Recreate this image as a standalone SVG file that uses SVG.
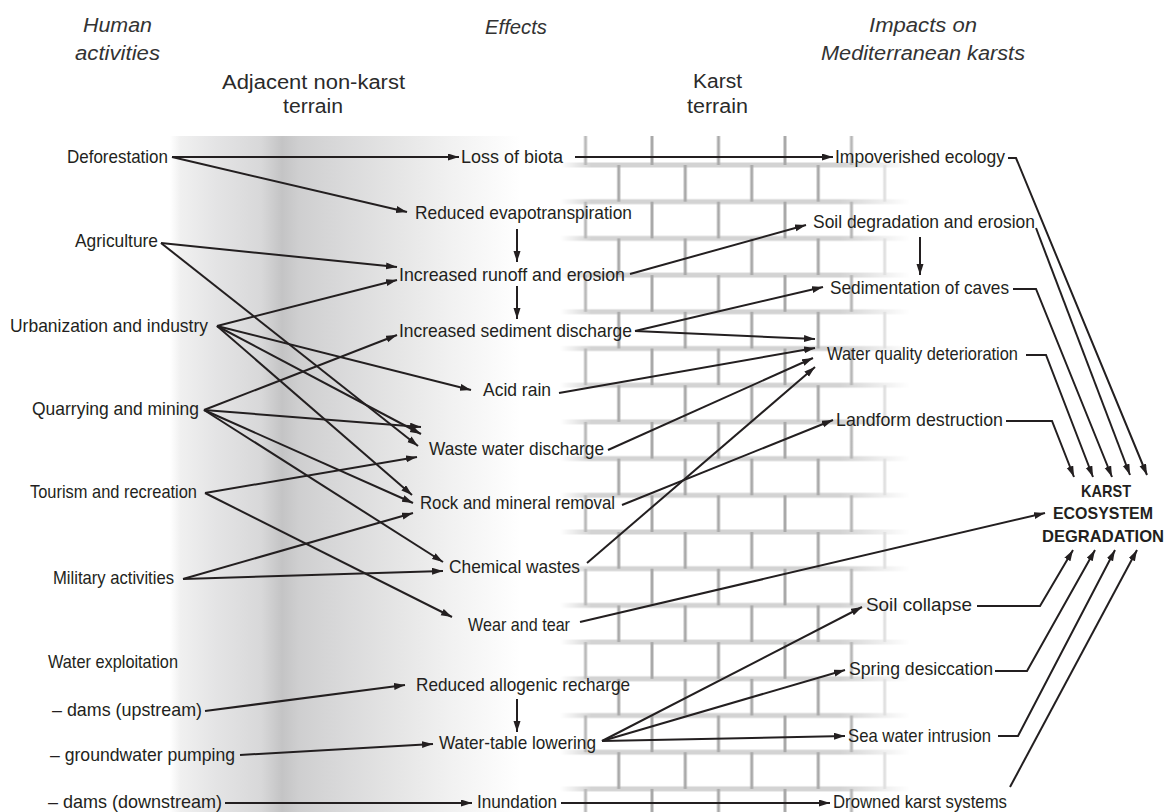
<svg xmlns="http://www.w3.org/2000/svg" width="1171" height="812" viewBox="0 0 1171 812">
<style>
.lbl{font-family:"Liberation Sans Narrow","Liberation Sans",Arial,sans-serif;font-size:19px;fill:#231f20}
.hdr{font-family:"Liberation Sans",Arial,sans-serif;font-style:italic;font-size:20px;fill:#333333}
.sub{font-family:"Liberation Sans",Arial,sans-serif;font-size:20px;fill:#2a2a2a}
.big{font-family:"Liberation Sans Narrow","Liberation Sans",Arial,sans-serif;font-weight:bold;font-size:17px;fill:#231f20}
.c{stroke:#231f20;stroke-width:2;fill:none;marker-end:url(#ah)}
</style>
<defs>
<marker id="ah" markerUnits="userSpaceOnUse" markerWidth="12" markerHeight="8" refX="11" refY="3.5" orient="auto">
<path d="M0,0 L11,3.5 L0,7 Z" fill="#231f20"/>
</marker>
<linearGradient id="band" gradientUnits="userSpaceOnUse" x1="170" y1="0" x2="520" y2="0">
<stop offset="0" stop-color="#ffffff"/>
<stop offset="0.03" stop-color="#f0f0f0"/>
<stop offset="0.13" stop-color="#e4e4e5"/>
<stop offset="0.26" stop-color="#d8d8d9"/>
<stop offset="0.32" stop-color="#c4c4c5"/>
<stop offset="0.37" stop-color="#cfcfd0"/>
<stop offset="0.49" stop-color="#d9d9da"/>
<stop offset="0.66" stop-color="#e6e6e6"/>
<stop offset="0.80" stop-color="#f1f1f1"/>
<stop offset="1" stop-color="#ffffff"/>
</linearGradient>
<pattern id="brick" patternUnits="userSpaceOnUse" x="585.5" y="165" width="133" height="73.4">
<rect width="133" height="73.4" fill="#ffffff"/>
<path d="M0,0 H133 M0,36.7 H133 M0,73.4 H133" stroke="#d3d3d3" stroke-width="5"/>
<path d="M33.25,0 V36.7 M99.75,0 V36.7 M0,36.7 V73.4 M66.5,36.7 V73.4 M133,36.7 V73.4" stroke="#a9a9a9" stroke-width="3"/>
</pattern>
<linearGradient id="fadeGrad" gradientUnits="userSpaceOnUse" x1="560" y1="0" x2="910" y2="0">
<stop offset="0" stop-color="#000"/>
<stop offset="0.09" stop-color="#fff"/>
<stop offset="0.80" stop-color="#fff"/>
<stop offset="1" stop-color="#000"/>
</linearGradient>
<mask id="fade" maskUnits="userSpaceOnUse" x="560" y="136" width="350" height="676">
<rect x="560" y="136" width="350" height="676" fill="url(#fadeGrad)"/>
</mask>
</defs>
<rect width="1171" height="812" fill="#ffffff"/>
<g id="background">
<rect x="170" y="136" width="350" height="676" fill="url(#band)"/>
<rect x="560" y="136" width="350" height="676" fill="url(#brick)" mask="url(#fade)"/>
</g>
<g id="headers">
<text class="hdr" x="83" y="32" textLength="69" lengthAdjust="spacingAndGlyphs">Human</text>
<text class="hdr" x="75" y="60" textLength="85" lengthAdjust="spacingAndGlyphs">activities</text>
<text class="hdr" x="485" y="34" textLength="62" lengthAdjust="spacingAndGlyphs">Effects</text>
<text class="hdr" x="869" y="32" textLength="108" lengthAdjust="spacingAndGlyphs">Impacts on</text>
<text class="hdr" x="821" y="60" textLength="204" lengthAdjust="spacingAndGlyphs">Mediterranean karsts</text>
<text class="sub" x="222" y="89" textLength="183" lengthAdjust="spacingAndGlyphs">Adjacent non-karst</text>
<text class="sub" x="283" y="113" textLength="60" lengthAdjust="spacingAndGlyphs">terrain</text>
<text class="sub" x="693" y="88" textLength="49" lengthAdjust="spacingAndGlyphs">Karst</text>
<text class="sub" x="687" y="113" textLength="61" lengthAdjust="spacingAndGlyphs">terrain</text>
</g>
<g id="connectors">
<path class="c" d="M172,157 L459,157"/>
<path class="c" d="M172,157 L407,212"/>
<path class="c" d="M161,243 L397,267"/>
<path class="c" d="M161,243 L418,446"/>
<path class="c" d="M217,326 L397,280"/>
<path class="c" d="M217,326 L471,390"/>
<path class="c" d="M217,326 L421,434"/>
<path class="c" d="M217,326 L412,495"/>
<path class="c" d="M204,410 L397,335"/>
<path class="c" d="M204,410 L421,427"/>
<path class="c" d="M204,410 L413,503"/>
<path class="c" d="M204,410 L443,562"/>
<path class="c" d="M205,493 L417,457"/>
<path class="c" d="M205,493 L452,617"/>
<path class="c" d="M183,579 L413,513"/>
<path class="c" d="M183,579 L443,571"/>
<path class="c" d="M517,229 L517,262"/>
<path class="c" d="M517,286 L517,319"/>
<path class="c" d="M205,711 L405,685"/>
<path class="c" d="M240,755 L433,744"/>
<path class="c" d="M225,803 L472,803"/>
<path class="c" d="M517,699 L517,732"/>
<path class="c" d="M575,157 L833,157"/>
<path class="c" d="M630,274 L806,225"/>
<path class="c" d="M635,331 L823,287"/>
<path class="c" d="M635,331 L815,339"/>
<path class="c" d="M559,393 L815,348"/>
<path class="c" d="M608,450 L813,358"/>
<path class="c" d="M587,563 L815,367"/>
<path class="c" d="M622,505 L833,420"/>
<path class="c" d="M580,622 L1045,513"/>
<path class="c" d="M602,741 L862,607"/>
<path class="c" d="M602,741 L845,670"/>
<path class="c" d="M602,741 L845,736"/>
<path class="c" d="M561,803 L830,803"/>
<path class="c" d="M920,237 L920,275"/>
<path class="c" d="M1008,158 L1016,158 L1147,475"/>
<path class="c" d="M1036,228 L1130,475"/>
<path class="c" d="M1013,289 L1036,289 L1112,477"/>
<path class="c" d="M1026,355 L1046,355 L1093,477"/>
<path class="c" d="M1006,421 L1052,421 L1074,477"/>
<path class="c" d="M977,606 L1040,606 L1073,550"/>
<path class="c" d="M995,671 L1027,671 L1095,550"/>
<path class="c" d="M998,736 L1018,736 L1115,550"/>
<path class="c" d="M1010,787 L1137,550"/>
</g>
<g id="n-deforestation"><text class="lbl" x="67" y="163" textLength="101" lengthAdjust="spacingAndGlyphs">Deforestation</text></g>
<g id="n-agriculture"><text class="lbl" x="75" y="247" textLength="83" lengthAdjust="spacingAndGlyphs">Agriculture</text></g>
<g id="n-urbanization"><text class="lbl" x="10" y="332" textLength="198" lengthAdjust="spacingAndGlyphs">Urbanization and industry</text></g>
<g id="n-quarrying"><text class="lbl" x="32" y="415" textLength="167" lengthAdjust="spacingAndGlyphs">Quarrying and mining</text></g>
<g id="n-tourism"><text class="lbl" x="30" y="498" textLength="167" lengthAdjust="spacingAndGlyphs">Tourism and recreation</text></g>
<g id="n-military"><text class="lbl" x="53" y="584" textLength="121" lengthAdjust="spacingAndGlyphs">Military activities</text></g>
<g id="n-water-exploitation"><text class="lbl" x="48" y="668" textLength="130" lengthAdjust="spacingAndGlyphs">Water exploitation</text></g>
<g id="n-dams-up"><text class="lbl" x="52" y="716" textLength="150" lengthAdjust="spacingAndGlyphs">– dams (upstream)</text></g>
<g id="n-groundwater"><text class="lbl" x="50" y="761" textLength="185" lengthAdjust="spacingAndGlyphs">– groundwater pumping</text></g>
<g id="n-dams-down"><text class="lbl" x="48" y="808" textLength="174" lengthAdjust="spacingAndGlyphs">– dams (downstream)</text></g>
<g id="n-loss-biota"><text class="lbl" x="461" y="163" textLength="102" lengthAdjust="spacingAndGlyphs">Loss of biota</text></g>
<g id="n-red-evap"><text class="lbl" x="415" y="219" textLength="217" lengthAdjust="spacingAndGlyphs">Reduced evapotranspiration</text></g>
<g id="n-runoff"><text class="lbl" x="399" y="281" textLength="226" lengthAdjust="spacingAndGlyphs">Increased runoff and erosion</text></g>
<g id="n-sediment"><text class="lbl" x="399" y="337" textLength="233" lengthAdjust="spacingAndGlyphs">Increased sediment discharge</text></g>
<g id="n-acid-rain"><text class="lbl" x="483" y="396" textLength="68" lengthAdjust="spacingAndGlyphs">Acid rain</text></g>
<g id="n-waste-water"><text class="lbl" x="429" y="455" textLength="175" lengthAdjust="spacingAndGlyphs">Waste water discharge</text></g>
<g id="n-rock"><text class="lbl" x="420" y="509" textLength="195" lengthAdjust="spacingAndGlyphs">Rock and mineral removal</text></g>
<g id="n-chemical"><text class="lbl" x="449" y="573" textLength="131" lengthAdjust="spacingAndGlyphs">Chemical wastes</text></g>
<g id="n-wear"><text class="lbl" x="468" y="631" textLength="102" lengthAdjust="spacingAndGlyphs">Wear and tear</text></g>
<g id="n-allogenic"><text class="lbl" x="416" y="691" textLength="214" lengthAdjust="spacingAndGlyphs">Reduced allogenic recharge</text></g>
<g id="n-water-table"><text class="lbl" x="439" y="749" textLength="157" lengthAdjust="spacingAndGlyphs">Water-table lowering</text></g>
<g id="n-inundation"><text class="lbl" x="477" y="808" textLength="80" lengthAdjust="spacingAndGlyphs">Inundation</text></g>
<g id="n-impoverished"><text class="lbl" x="835" y="163" textLength="170" lengthAdjust="spacingAndGlyphs">Impoverished ecology</text></g>
<g id="n-soil-degradation"><text class="lbl" x="813" y="228" textLength="222" lengthAdjust="spacingAndGlyphs">Soil degradation and erosion</text></g>
<g id="n-sedimentation"><text class="lbl" x="830" y="294" textLength="179" lengthAdjust="spacingAndGlyphs">Sedimentation of caves</text></g>
<g id="n-water-quality"><text class="lbl" x="827" y="360" textLength="191" lengthAdjust="spacingAndGlyphs">Water quality deterioration</text></g>
<g id="n-landform"><text class="lbl" x="836" y="426" textLength="167" lengthAdjust="spacingAndGlyphs">Landform destruction</text></g>
<g id="n-soil-collapse"><text class="lbl" x="866" y="611" textLength="106" lengthAdjust="spacingAndGlyphs">Soil collapse</text></g>
<g id="n-spring"><text class="lbl" x="849" y="675" textLength="144" lengthAdjust="spacingAndGlyphs">Spring desiccation</text></g>
<g id="n-sea-water"><text class="lbl" x="848" y="742" textLength="143" lengthAdjust="spacingAndGlyphs">Sea water intrusion</text></g>
<g id="n-drowned"><text class="lbl" x="833" y="808" textLength="174" lengthAdjust="spacingAndGlyphs">Drowned karst systems</text></g>
<g id="n-karst-degradation">
<text class="big" x="1106" y="497" text-anchor="middle" textLength="50" lengthAdjust="spacingAndGlyphs">KARST</text>
<text class="big" x="1103" y="519" text-anchor="middle" textLength="100" lengthAdjust="spacingAndGlyphs">ECOSYSTEM</text>
<text class="big" x="1103" y="542" text-anchor="middle" textLength="122" lengthAdjust="spacingAndGlyphs">DEGRADATION</text>
</g>
</svg>
